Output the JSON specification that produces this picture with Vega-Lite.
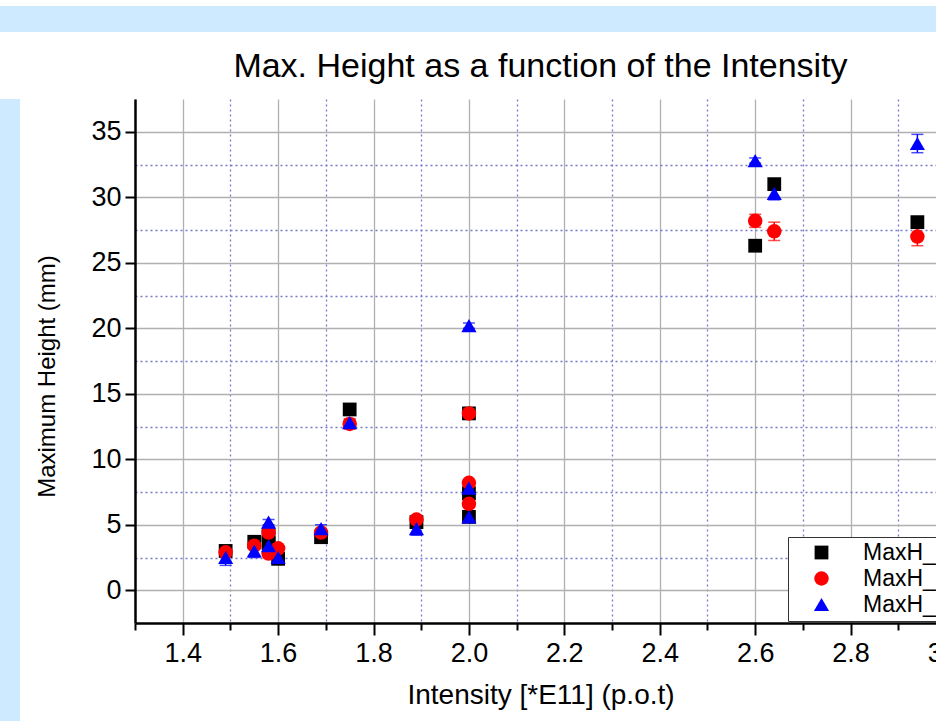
{
  "$schema": "https://vega.github.io/schema/vega-lite/v6.json",
  "background": "white",
  "padding": {"left": 0, "top": 6, "right": 0, "bottom": 0},
  "spacing": 0,
  "config": {"font": "Liberation Sans", "view": {"stroke": null}},
  "vconcat": [
    {
      "width": 936, "height": 26,
      "data": {"values": [{}]},
      "mark": {"type": "point", "opacity": 0},
      "view": {"fill": "#cdeafe", "stroke": null}
    },
    {
      "spacing": 15,
      "align": "none",
      "hconcat": [
        {
          "width": 20, "height": 640,
          "data": {"values": [{}]},
          "mark": {"type": "point", "opacity": 0},
          "view": {"fill": "#cdeafe", "stroke": null}
        },
        {
          "width": 811, "height": 524,
          "view": {"stroke": null},
          "title": {"text": ["", "Max. Height as a function of the Intensity"], "lineHeight": 18, "fontSize": 34, "fontWeight": "normal", "color": "black", "offset": -19, "baseline": "bottom"},
          "data": {"values": [
            {"x": 1.49, "y": 3.0, "e": 0.15, "s": "MaxH_1"},
            {"x": 1.55, "y": 3.7, "e": 0.15, "s": "MaxH_1"},
            {"x": 1.58, "y": 4.2, "e": 0.15, "s": "MaxH_1"},
            {"x": 1.58, "y": 3.6, "e": 0.15, "s": "MaxH_1"},
            {"x": 1.60, "y": 2.4, "e": 0.15, "s": "MaxH_1"},
            {"x": 1.69, "y": 4.05, "e": 0.15, "s": "MaxH_1"},
            {"x": 1.75, "y": 13.8, "e": 0.15, "s": "MaxH_1"},
            {"x": 1.89, "y": 5.2, "e": 0.15, "s": "MaxH_1"},
            {"x": 2.0, "y": 13.5, "e": 0.15, "s": "MaxH_1"},
            {"x": 2.0, "y": 7.4, "e": 0.15, "s": "MaxH_1"},
            {"x": 2.0, "y": 5.6, "e": 0.15, "s": "MaxH_1"},
            {"x": 2.6, "y": 26.3, "e": 0.15, "s": "MaxH_1"},
            {"x": 2.64, "y": 31.0, "e": 0.15, "s": "MaxH_1"},
            {"x": 2.94, "y": 28.1, "e": 0.15, "s": "MaxH_1"},
            {"x": 1.49, "y": 2.9, "e": 0.2, "s": "MaxH_2"},
            {"x": 1.55, "y": 3.4, "e": 0.2, "s": "MaxH_2"},
            {"x": 1.58, "y": 4.4, "e": 0.3, "s": "MaxH_2"},
            {"x": 1.58, "y": 2.8, "e": 0.3, "s": "MaxH_2"},
            {"x": 1.60, "y": 3.2, "e": 0.2, "s": "MaxH_2"},
            {"x": 1.69, "y": 4.4, "e": 0.3, "s": "MaxH_2"},
            {"x": 1.75, "y": 12.7, "e": 0.4, "s": "MaxH_2"},
            {"x": 1.89, "y": 5.4, "e": 0.2, "s": "MaxH_2"},
            {"x": 2.0, "y": 13.5, "e": 0.2, "s": "MaxH_2"},
            {"x": 2.0, "y": 8.2, "e": 0.2, "s": "MaxH_2"},
            {"x": 2.0, "y": 6.6, "e": 0.2, "s": "MaxH_2"},
            {"x": 2.6, "y": 28.2, "e": 0.5, "s": "MaxH_2"},
            {"x": 2.64, "y": 27.4, "e": 0.7, "s": "MaxH_2"},
            {"x": 2.94, "y": 27.0, "e": 0.7, "s": "MaxH_2"},
            {"x": 1.49, "y": 2.5, "e": 0.6, "s": "MaxH_3"},
            {"x": 1.55, "y": 3.0, "e": 0.5, "s": "MaxH_3"},
            {"x": 1.58, "y": 5.2, "e": 0.2, "s": "MaxH_3"},
            {"x": 1.58, "y": 3.4, "e": 0.3, "s": "MaxH_3"},
            {"x": 1.60, "y": 2.5, "e": 0.2, "s": "MaxH_3"},
            {"x": 1.69, "y": 4.7, "e": 0.3, "s": "MaxH_3"},
            {"x": 1.75, "y": 12.8, "e": 0.2, "s": "MaxH_3"},
            {"x": 1.89, "y": 4.7, "e": 0.5, "s": "MaxH_3"},
            {"x": 2.0, "y": 20.2, "e": 0.2, "s": "MaxH_3"},
            {"x": 2.0, "y": 7.8, "e": 0.3, "s": "MaxH_3"},
            {"x": 2.0, "y": 5.6, "e": 0.4, "s": "MaxH_3"},
            {"x": 2.6, "y": 32.8, "e": 0.2, "s": "MaxH_3"},
            {"x": 2.64, "y": 30.3, "e": 0.5, "s": "MaxH_3"},
            {"x": 2.94, "y": 34.1, "e": 0.7, "s": "MaxH_3"}
          ]},
          "encoding": {
            "x": {
              "field": "x", "type": "quantitative",
              "scale": {"domain": [1.3, 3.0], "nice": false, "zero": false},
              "axis": {
                "orient": "bottom",
                "values": [1.3, 1.4, 1.5, 1.6, 1.7, 1.8, 1.9, 2.0, 2.1, 2.2, 2.3, 2.4, 2.5, 2.6, 2.7, 2.8, 2.9, 3.0],
                "labelExpr": "round(datum.value*10)%2==0 ? format(datum.value,'.1f') : ''",
                "title": "Intensity [*E11] (p.o.t)",
                "titleFontSize": 28, "titleFontWeight": "normal", "titleColor": "black", "titlePadding": 15,
                "labelFontSize": 27, "labelColor": "black", "labelPadding": 5, "labelOverlap": false, "labelFlush": false,
                "domainColor": "black", "domainWidth": 2.5,
                "tickColor": "black", "tickWidth": 2,
                "tickSize": {"condition": {"test": "round(datum.value*10)%2==0", "value": 12}, "value": 7},
                "grid": true,
                "gridWidth": 1.3,
                "gridColor": {"condition": {"test": "round(datum.value*10)%2==0", "value": "#b0b0b0"}, "value": "#7878c8"},
                "gridDash": {"condition": {"test": "round(datum.value*10)%2==0", "value": []}, "value": [2, 3]}
              }
            },
            "y": {
              "field": "y", "type": "quantitative",
              "scale": {"domain": [-2.5, 37.5], "nice": false, "zero": false},
              "axis": {
                "values": [0, 2.5, 5, 7.5, 10, 12.5, 15, 17.5, 20, 22.5, 25, 27.5, 30, 32.5, 35],
                "labelExpr": "round(datum.value/2.5)%2==0 ? format(datum.value,'d') : ''",
                "title": "Maximum Height (mm)", "titleY": 277,
                "titleFontSize": 24, "titleFontWeight": "normal", "titleColor": "black", "titlePadding": 31,
                "labelFontSize": 27, "labelColor": "black", "labelPadding": 4, "labelOverlap": false,
                "domainColor": "black", "domainWidth": 2.5,
                "tickColor": "black", "tickWidth": 2,
                "tickSize": {"condition": {"test": "round(datum.value/2.5)%2==0", "value": 10}, "value": 0},
                "grid": true,
                "gridWidth": 1.3,
                "gridColor": {"condition": {"test": "round(datum.value/2.5)%2==0", "value": "#b0b0b0"}, "value": "#7878c8"},
                "gridDash": {"condition": {"test": "round(datum.value/2.5)%2==0", "value": []}, "value": [2, 3]}
              }
            },
            "color": {"field": "s", "type": "nominal",
              "scale": {"domain": ["MaxH_1", "MaxH_2", "MaxH_3"], "range": ["#000000", "#ff0000", "#0000ff"]},
              "legend": {
                "orient": "none", "legendX": 788, "legendY": 531,
                "title": null, "fillColor": "white", "strokeColor": "#333333",
                "padding": 4, "labelFontSize": 23, "labelColor": "black",
                "symbolOffset": 18, "labelOffset": 30, "rowPadding": 2, "symbolStrokeWidth": 0, "symbolSize": 170, "symbolOpacity": 1
              }
            }
          },
          "layer": [
            {
              "mark": {"type": "errorbar", "ticks": {"size": 12}, "thickness": 1.5},
              "encoding": {
                "yError": {"field": "e"}
              }
            },
            {
              "mark": {"type": "point", "filled": true, "opacity": 1},
              "encoding": {
                "shape": {"field": "s", "type": "nominal",
                  "scale": {"domain": ["MaxH_1", "MaxH_2", "MaxH_3"], "range": ["square", "circle", "triangle-up"]},
                  "legend": {
                    "orient": "none", "legendX": 788, "legendY": 531,
                    "title": null, "fillColor": "white", "strokeColor": "#333333",
                    "padding": 4, "labelFontSize": 23, "labelColor": "black",
                    "symbolOffset": 18, "labelOffset": 30, "rowPadding": 2, "symbolStrokeWidth": 0, "symbolSize": 170, "symbolOpacity": 1
                  }
                },
                "size": {"field": "s", "type": "nominal",
                  "scale": {"domain": ["MaxH_1", "MaxH_2", "MaxH_3"], "range": [190, 230, 320]},
                  "legend": null
                }
              }
            }
          ]
        }
      ]
    }
  ]
}
